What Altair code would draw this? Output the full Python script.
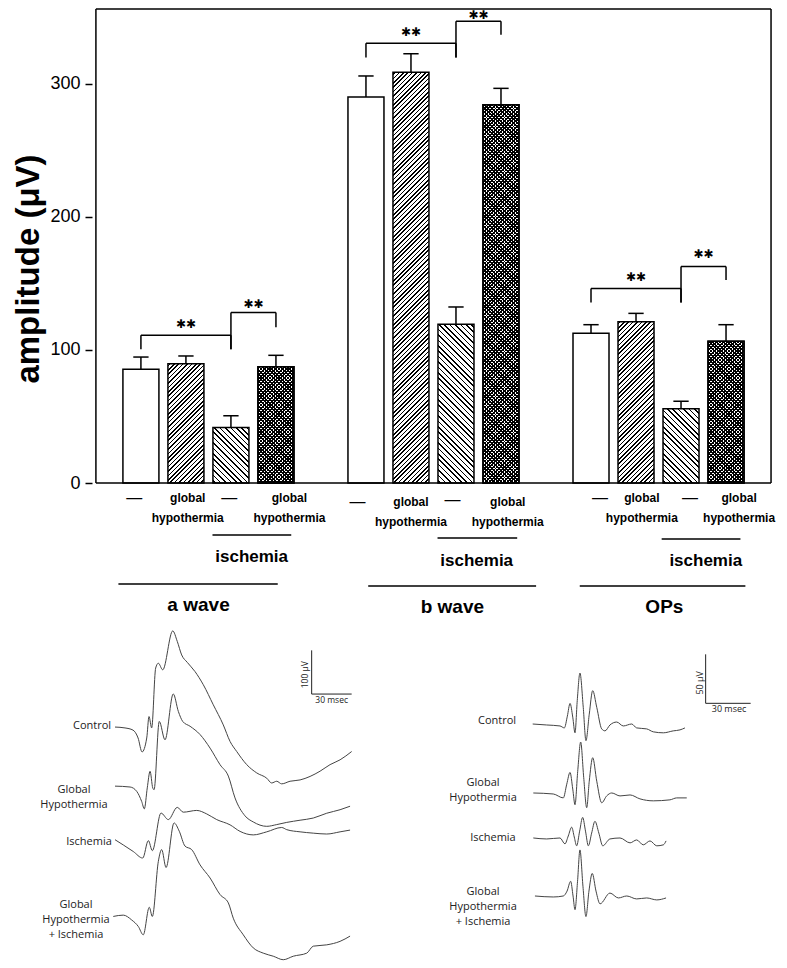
import altair as alt
import pandas as pd

# ---------------- data: bar chart ----------------
groups = ["a wave", "b wave", "OPs"]
conditions = ["control", "global hypothermia", "ischemia", "global hypothermia + ischemia"]
patterns = ["none", "/", "\\", "x"]

a_wave_mean = [85.5, 89.5, 41.6, 87.4]
a_wave_sem = [9.1, 5.9, 8.9, 8.5]
b_wave_mean = [289.9, 308.5, 119.2, 284.1]
b_wave_sem = [15.8, 13.9, 13.0, 12.3]
ops_mean = [112.4, 121.1, 55.8, 106.4]
ops_sem = [6.5, 6.3, 5.6, 12.5]

# significance brackets: (from condition, to condition), bracket top, leg bottom
sig_pairs = [(0, 2), (2, 3)]
sig_top = {"a wave": [111, 128], "b wave": [330.3, 346.8], "OPs": [146, 162.6]}
sig_leg = {"a wave": [100.5, 117], "b wave": [319.5, 336.6], "OPs": [135.6, 152.4]}
sig_mark = "✱✱"

# ---------------- data: ERG traces (time ms, amplitude µV) ----------------
erg_control_t = [1.5, 9, 15, 18.8, 21.8, 25.3, 27, 29, 32, 34, 37.3, 44.8, 48.2, 51.5, 55.7, 61.5, 67.7, 75.2, 82.7, 87.8, 92.8, 100.3, 107.8, 115.3, 119, 122.8, 126.5, 132.8, 140.3, 147.8, 155.3, 162.8, 170.3, 179]
erg_control_uv = [0, -2, -7, -25, -57, -25, 24, -2, 135, 146, 131, 220, 196, 165, 148, 127, 97, 51, 5, -33, -56, -86, -105, -117, -128, -124, -130, -124, -121, -113, -101, -86, -75, -56]
erg_gh_t = [1.5, 12.8, 17.8, 21.5, 23.5, 25.7, 27.8, 29.8, 30.8, 34.7, 39, 45.2, 49, 52.3, 57.8, 65.3, 72.8, 80.3, 86.5, 91.5, 99, 105.2, 115.3, 122.8, 130.3, 140.3, 150.2, 160.3, 170.3, 177.8]
erg_gh_uv = [2, 0, -10, -33, -50, -2, 36, -2, -6, 150, 108, 213, 173, 150, 139, 120, 89, 51, 25, -25, -66, -80, -90, -86, -81, -76, -71, -60, -52, -44]
erg_isch_t = [1.5, 7.7, 15.2, 22.3, 26.5, 29.5, 36, 41.5, 48.2, 52.7, 62.8, 70.3, 77.8, 87.8, 95.3, 105.2, 115.3, 126.5, 130.3, 140.3, 150.2, 160.3, 170.3, 177.8]
erg_isch_uv = [3, -9, -24, -39, 1, -22, 64, 49, 77, 66, 70, 62, 49, 37, 22, 14, 21, 31, 26, 21, 18, 16, 21, 25]
erg_ghi_t = [0.2, 7.7, 14, 19, 22.7, 27.2, 29.5, 34, 36.5, 39.8, 45.8, 49.7, 54, 59, 65.3, 72.8, 80.3, 86.5, 90.2, 97.7, 105.2, 112.7, 120.2, 127.7, 135.2, 145.3, 150.2, 160.3, 170.3, 177.8]
erg_ghi_uv = [-1, 2, -9, -24, -43, 20, -1, 125, 152, 111, 213, 194, 160, 152, 117, 87, 49, 30, -5, -43, -73, -85, -92, -100, -92, -85, -69, -66, -58, -46]

ops_control_t = [1.8, 11.1, 20, 22.9, 24.9, 26.7, 28.5, 30, 31.5, 33.3, 35.5, 37.3, 39.5, 41.8, 44.5, 47.8, 50, 53.3, 57.8, 62.2, 67.8, 71.1, 77.8, 82.2, 88.9, 95.5, 100, 103.3]
ops_control_uv = [1, 0, -1, -3, 9, 22, 8, -8, 25, 53, 18, -16, 11, 35, 18, -4, -6, 0, 3, -1, 1, -3, -4, -7, -8, -6, -5, -3]
ops_gh_t = [2.2, 15.5, 22.2, 24.5, 26.7, 28.5, 30, 31.8, 33.8, 35.8, 37.8, 39.5, 41.8, 44.5, 47.8, 51.1, 54.5, 60, 66.7, 73.3, 82.2, 93.3, 97.8, 104.5]
ops_gh_uv = [0, -1, -5, 9, 21, 4, -12, 22, 52, 16, -15, 12, 36, 12, -10, -3, 0, -3, -2, -6, -8, -7, -5, -5]
ops_isch_t = [2.2, 11.1, 20, 23.3, 25.5, 27.8, 29.5, 31.1, 33.1, 35.1, 37, 38.9, 41.1, 43.3, 45.9, 48.5, 53.3, 60, 66.7, 71.1, 75.5, 80, 84.5, 88.9, 90.7]
ops_isch_uv = [1, 0, 1, -5, 3, 12, 2, -7, 8, 22, 8, -7, 6, 18, 6, -7, 0, 1, -4, -1, -6, -2, -7, -6, -2]
ops_ghi_t = [3.3, 15.5, 22.2, 24.7, 27.1, 28.7, 30, 31.7, 33.3, 35.3, 37.3, 39.3, 41.5, 44, 46.7, 53.3, 58.9, 64.5, 71.1, 77.8, 84.5, 90.7]
ops_ghi_uv = [1, 0, 1, 6, 16, 1, -13, 16, 48, 11, -20, 6, 24, 6, -7, 4, -1, 1, -2, -1, -3, -1]

trace_names = ["Control", "Global\nHypothermia", "Ischemia", "Global\nHypothermia\n+ Ischemia"]

# ---------------- layout ----------------
# one shared drawing area; each part gets its own scales mapped onto it
CANVAS_W, CANVAS_H = 771, 950
BAR_W = 36
GROUP_STEP = 5
FONT = "Liberation Sans"
PX_PER_POS = 45.6           # bar chart: px per bar position
PX_PER_UV = 474 / 356       # bar chart: px per µV
AXIS_X, ZERO_Y = 84, 474    # bar chart axis position inside the canvas
STAR_GAP = {"a wave": [8.6, 6.7], "b wave": [8.4, 4.6], "OPs": [8.7, 9.2]}  # star height above bracket

means = {"a wave": a_wave_mean, "b wave": b_wave_mean, "OPs": ops_mean}
sems = {"a wave": a_wave_sem, "b wave": b_wave_sem, "OPs": ops_sem}

rows = []
for gi, g in enumerate(groups):
    for ci, c in enumerate(conditions):
        rows.append(dict(group=g, cond=c, pat=patterns[ci], pos=gi * GROUP_STEP + ci,
                         mean=means[g][ci], sem=sems[g][ci]))
bars = pd.DataFrame(rows)
bars["top"] = bars["mean"] + bars["sem"]
bars["cap_l"] = bars["pos"] - 0.17
bars["cap_r"] = bars["pos"] + 0.17

xs = alt.Scale(domain=[-1 - AXIS_X / PX_PER_POS, -1 + (CANVAS_W - AXIS_X) / PX_PER_POS], nice=False, zero=False)
ys = alt.Scale(domain=[-(CANVAS_H - ZERO_Y) / PX_PER_UV, ZERO_Y / PX_PER_UV], nice=False, zero=False)
yaxis = alt.Axis(values=[0, 100, 200, 300], title="amplitude (μV)", titleFont=FONT,
                 titleFontSize=33, titleFontWeight="bold", titleColor="black",
                 titleX=-54, titleY=259.5, titleBaseline="alphabetic", titleAngle=270,
                 labelFont=FONT, labelFontSize=18, labelColor="black", labelPadding=5,
                 tickSize=7, tickWidth=1.5, tickColor="black", domain=False, grid=False,
                 offset=-AXIS_X)


def X(f):
    return alt.X(f, scale=xs, axis=None)


def Y(f):
    return alt.Y(f, scale=ys, axis=yaxis)


def stripe_fill(h, w, direction, period, lw, bg, fg="#000000"):
    L = w + h
    t = L / (w * w + h * h)
    if direction == "/":
        x1, y1, x2, y2 = 0.0, 0.0, w * t, h * t
    else:
        x1, y1, x2, y2 = 0.0, 1.0, w * t, 1.0 - h * t
    stops = []
    k = 0
    while True:
        c = k * period + period / 2
        a = (c - lw / 2) / L
        b = (c + lw / 2) / L
        if a >= 1:
            break
        a = round(max(a, 0.0), 5)
        b = round(min(b, 1.0), 5)
        stops += [{"offset": a, "color": bg}, {"offset": a, "color": fg},
                  {"offset": b, "color": fg}, {"offset": b, "color": bg}]
        k += 1
    return {"gradient": "linear", "x1": x1, "y1": y1, "x2": x2, "y2": y2, "stops": stops}


layers = []
for _, r in bars.iterrows():
    d = bars[bars["pos"] == r["pos"]]
    h = r["mean"] * PX_PER_UV
    if r["pat"] == "none":
        fills = ["white"]
    elif r["pat"] == "/":
        fills = [stripe_fill(h, BAR_W, "/", 4.4, 1.6, "white")]
    elif r["pat"] == "\\":
        fills = [stripe_fill(h, BAR_W, "\\", 5.4, 1.6, "white")]
    else:
        fills = [stripe_fill(h, BAR_W, "/", 3.6, 1.8, "white"),
                 stripe_fill(h, BAR_W, "\\", 3.6, 1.8, "rgba(255,255,255,0)")]
    for f in fills:
        layers.append(
            alt.Chart(d).mark_bar(size=BAR_W, fill=f, stroke="black", strokeWidth=1.5).encode(
                x=X("pos:Q"), y=Y("mean:Q"), y2=alt.datum(0),
            )
        )

err_rule = alt.Chart(bars).mark_rule(color="black", strokeWidth=1.5).encode(
    x=X("pos:Q"), y=Y("mean:Q"), y2="top:Q")
err_cap = alt.Chart(bars).mark_rule(color="black", strokeWidth=1.5).encode(
    x=X("cap_l:Q"), x2="cap_r:Q", y=Y("top:Q"))

# plot frame (box around the bar chart)
frame = pd.DataFrame([(-1, 14, 0, 0), (-1, 14, 356, 356), (-1, -1, 0, 356), (14, 14, 0, 356)],
                     columns=["x", "x2", "y", "y2"])
frame_rules = alt.Chart(frame).mark_rule(color="black", strokeWidth=1.5).encode(
    x=X("x:Q"), x2="x2:Q", y=Y("y:Q"), y2="y2:Q")

seg_rows, star_rows = [], []
for gi, g in enumerate(groups):
    for k, (c0, c1) in enumerate(sig_pairs):
        xa, xb = gi * GROUP_STEP + c0, gi * GROUP_STEP + c1
        top = sig_top[g][k]
        seg_rows.append(dict(x=xa, x2=xb, y=top, y2=top))
        seg_rows.append(dict(x=xa, x2=xa, y=top, y2=sig_leg[g][0]))
        seg_rows.append(dict(x=xb, x2=xb, y=top, y2=sig_leg[g][k]))
        star_rows.append(dict(x=(xa + xb) / 2, y=top + STAR_GAP[g][k], text=sig_mark))
segs = pd.DataFrame(seg_rows)
stars = pd.DataFrame(star_rows)

brackets = alt.Chart(segs).mark_rule(color="black", strokeWidth=1.5).encode(
    x=X("x:Q"), x2="x2:Q", y=Y("y:Q"), y2="y2:Q")
star_text = alt.Chart(stars).mark_text(font="DejaVu Sans", fontSize=12, color="black",
                                       baseline="middle").encode(
    x=X("x:Q"), y=Y("y:Q"), text="text:N")

# labels under the axis (layout in data units of the bar chart)
below_small = pd.DataFrame([
    ("global", 1.04, -11.3), ("hypothermia", 1.04, -26.3), ("global", 3.30, -11.3), ("hypothermia", 3.30, -26.3),
    ("global", 6.0, -14.3), ("hypothermia", 6.0, -29.3), ("global", 8.15, -14.3), ("hypothermia", 8.15, -29.3),
    ("global", 11.13, -11.3), ("hypothermia", 11.13, -26.3), ("global", 13.29, -11.3), ("hypothermia", 13.29, -26.3),
], columns=["text", "x", "y"])
below_dash = pd.DataFrame([
    ("—", -0.15, -11.3), ("—", 1.96, -11.3), ("—", 4.81, -14.3), ("—", 6.92, -13.0),
    ("—", 10.2, -11.3), ("—", 12.2, -11.3),
], columns=["text", "x", "y"])
below_isch = pd.DataFrame([
    ("ischemia", 2.46, -55.6), ("ischemia", 7.46, -58.6), ("ischemia", 12.55, -58.6),
], columns=["text", "x", "y"])
below_group = pd.DataFrame([
    ("a wave", 1.28, -91.6), ("b wave", 6.92, -93.1), ("OPs", 11.63, -93.1),
], columns=["text", "x", "y"])
below_lines = pd.DataFrame([
    (1.59, 3.34, -39.1), (-0.5, 3.04, -75.9),
    (6.59, 8.36, -41.3), (5.05, 8.78, -77.4),
    (11.57, 13.32, -42.0), (9.75, 13.43, -77.4),
], columns=["x", "x2", "y"])


def label_layer(df, size, weight):
    return alt.Chart(df).mark_text(font=FONT, fontSize=size, fontWeight=weight, color="black",
                                   baseline="middle").encode(
        x=X("x:Q"), y=Y("y:Q"), text="text:N")


lines_below = alt.Chart(below_lines).mark_rule(color="black", strokeWidth=1.5).encode(
    x=X("x:Q"), x2="x2:Q", y=Y("y:Q"))

bar_part = alt.layer(
    *layers, err_rule, err_cap, frame_rules, brackets, star_text,
    label_layer(below_small, 12, "bold"), label_layer(below_dash, 16, "normal"),
    label_layer(below_isch, 17, "bold"), label_layer(below_group, 19, "bold"), lines_below,
)


# ---------------- trace panels ----------------
def trace_panel(traces, offsets, label_pos, bar, xdom, ydom, bar_texts, bar_font):
    sx = alt.Scale(domain=xdom, nice=False, zero=False)
    sy = alt.Scale(domain=ydom, nice=False, zero=False)
    PX = lambda f: alt.X(f, scale=sx, axis=None)
    PY = lambda f: alt.Y(f, scale=sy, axis=None)
    frames = []
    for name, (t, uv) in zip(trace_names, traces):
        f = pd.DataFrame({"t": t, "uv": uv})
        f["trace"] = name
        f["i"] = range(len(t))
        f["y"] = f["uv"] + offsets[name]
        frames.append(f)
    df = pd.concat(frames, ignore_index=True)
    lines = alt.Chart(df).mark_line(interpolate="monotone", color="#444444", strokeWidth=1).encode(
        x=PX("t:Q"), y=PY("y:Q"), detail="trace:N", order="i:Q")
    lab = pd.DataFrame([(n, label_pos[n][0], label_pos[n][1]) for n in trace_names],
                       columns=["text", "x", "y"])
    labels = alt.Chart(lab).mark_text(font="Open Sans", fontSize=11, color="#222", lineBreak="\n",
                                      lineHeight=15, baseline="middle", align="center").encode(
        x=PX("x:Q"), y=PY("y:Q"), text="text:N")
    t0, t1, y0, y1 = bar
    sb = pd.DataFrame([(t0, t0, y0, y1), (t0, t1, y0, y0)], columns=["x", "x2", "y", "y2"])
    scalebar = alt.Chart(sb).mark_rule(color="#222", strokeWidth=1).encode(
        x=PX("x:Q"), x2="x2:Q", y=PY("y:Q"), y2="y2:Q")
    vt = pd.DataFrame([bar_texts[0]], columns=["text", "x", "y"])
    ht = pd.DataFrame([bar_texts[1]], columns=["text", "x", "y"])
    vtext = alt.Chart(vt).mark_text(font="Open Sans", fontSize=bar_font, color="#222", angle=270,
                                    baseline="middle").encode(x=PX("x:Q"), y=PY("y:Q"), text="text:N")
    htext = alt.Chart(ht).mark_text(font="Open Sans", fontSize=bar_font, color="#222",
                                    baseline="middle").encode(x=PX("x:Q"), y=PY("y:Q"), text="text:N")
    return alt.layer(lines, labels, scalebar, vtext, htext)


# ERG panel: 30 ms = 40 px, 100 µV = 43.7 px
ERG_MS_PX, ERG_UV_PX = 0.75, 100 / 43.7
erg_x0, erg_y0 = 105, 957
erg_panel = trace_panel(
    [(erg_control_t, erg_control_uv), (erg_gh_t, erg_gh_uv), (erg_isch_t, erg_isch_uv), (erg_ghi_t, erg_ghi_uv)],
    offsets={trace_names[0]: 546.8, trace_names[1]: 409.6, trace_names[2]: 286.0, trace_names[3]: 114.4},
    label_pos={trace_names[0]: (-15.75, 549.1), trace_names[1]: (-29.25, 402.7),
               trace_names[2]: (-18.0, 283.7), trace_names[3]: (-27.75, 139.6)},
    bar=(149, 179, 622.3, 722.3),
    xdom=[-erg_x0 * ERG_MS_PX, (CANVAS_W - erg_x0) * ERG_MS_PX],
    ydom=[(erg_y0 - CANVAS_H) * ERG_UV_PX, erg_y0 * ERG_UV_PX],
    bar_texts=[("100 µV", 144, 666.5), ("30 msec", 164, 609.3)], bar_font=8.5,
)

# OPs panel: 30 ms = 45 px, 50 µV = 49 px
OPS_MS_PX, OPS_UV_PX = 30 / 45, 50 / 49
ops_x0, ops_y0 = 522, 960
ops_panel = trace_panel(
    [(ops_control_t, ops_control_uv), (ops_gh_t, ops_gh_uv), (ops_isch_t, ops_isch_uv), (ops_ghi_t, ops_ghi_uv)],
    offsets={trace_names[0]: 249.0, trace_names[1]: 179.6, trace_names[2]: 132.7, trace_names[3]: 73.5},
    label_pos={trace_names[0]: (-22.0, 253.1), trace_names[1]: (-31.3, 190.3),
               trace_names[2]: (-24.7, 134.0), trace_names[3]: (-31.3, 78.9)},
    bar=(117.1, 147.1, 271.1, 321.1),
    xdom=[-ops_x0 * OPS_MS_PX, (CANVAS_W - ops_x0) * OPS_MS_PX],
    ydom=[(ops_y0 - CANVAS_H) * OPS_UV_PX, ops_y0 * OPS_UV_PX],
    bar_texts=[("50 µV", 113.3, 292.0), ("30 msec", 132.7, 265.0)], bar_font=9,
)

chart = alt.layer(bar_part, erg_panel, ops_panel).resolve_scale(
    x="independent", y="independent"
).properties(
    width=CANVAS_W, height=CANVAS_H, padding=0,
    view=alt.ViewBackground(strokeOpacity=0, strokeWidth=0),
).configure_view(strokeOpacity=0, strokeWidth=0).configure(font=FONT)

chart.save("out.html", embed_options={"renderer": "svg", "actions": False})
